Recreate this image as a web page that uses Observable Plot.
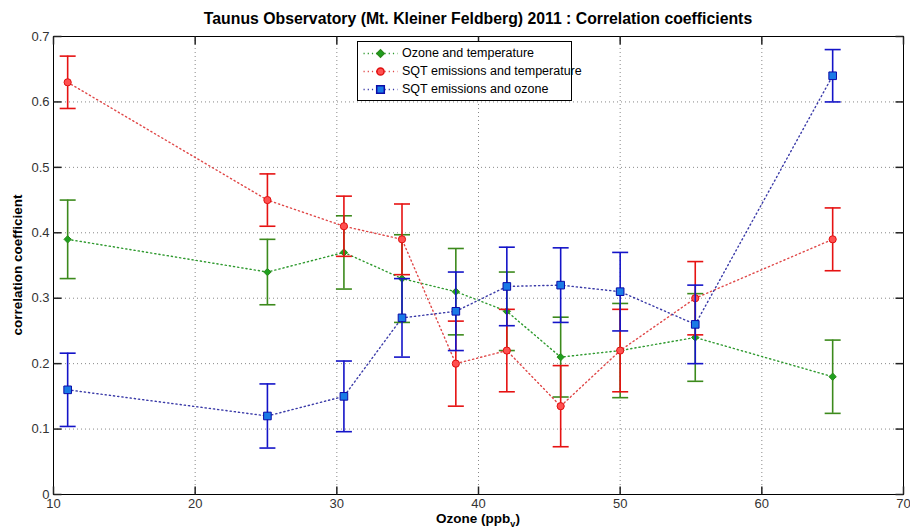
<!DOCTYPE html>
<html>
<head>
<meta charset="utf-8">
<script src="https://cdn.jsdelivr.net/npm/d3@7"></script>
<script src="https://cdn.jsdelivr.net/npm/@observablehq/plot@0.6"></script>
<style>
  body { margin: 0; background: #fff; font-family: "Liberation Sans", Arial, Helvetica, sans-serif; }
  #wrap { position: relative; width: 910px; height: 531px; }
  #title { position: absolute; left: 0; width: 956px; top: 10px; text-align: center; font-weight: bold; font-size: 15.8px; color: #000; white-space: nowrap; }
  #xlabel { position: absolute; left: 0; width: 956px; top: 511px; text-align: center; font-weight: bold; font-size: 13.5px; }
  #xlabel sub { font-size: 9px; }
  #ylabel { position: absolute; left: 17px; top: 265px; transform: translate(-50%, -50%) rotate(-90deg); font-weight: bold; font-size: 13.5px; white-space: nowrap; }
  #legend { position: absolute; left: 357px; top: 41px; width: 213px; height: 58px; border: 1px solid #000; background: #fff; font-size: 12.5px; }
  #legend .row { position: absolute; left: 3px; height: 16px; display: flex; align-items: center; white-space: nowrap; }
  #legend svg { margin-right: 3px; flex-shrink: 0; }
  #chart svg { position: absolute; left: 0; top: 0; }
</style>
</head>
<body>
<div id="wrap">
  <div id="chart"></div>
  <div id="title">Taunus Observatory (Mt. Kleiner Feldberg) 2011 : Correlation coefficients</div>
  <div id="xlabel">Ozone (ppb<sub>v</sub>)</div>
  <div id="ylabel">correlation coefficient</div>
  <div id="legend"></div>
</div>
<script>
// ---- data ----
const ozone = [11, 25.1, 30.5, 34.6, 38.4, 42.0, 45.8, 50.0, 55.3, 65.0];
const ozTemp = [0.39, 0.34, 0.37, 0.33, 0.31, 0.28, 0.21, 0.22, 0.24, 0.18];
const ozTempErr = [0.06, 0.05, 0.056, 0.067, 0.066, 0.06, 0.061, 0.072, 0.067, 0.056];
const sqtTemp = [0.63, 0.45, 0.41, 0.39, 0.20, 0.22, 0.135, 0.22, 0.30, 0.39];
const sqtTempErr = [0.04, 0.04, 0.046, 0.054, 0.065, 0.063, 0.062, 0.063, 0.056, 0.048];
const sqtOz = [0.16, 0.12, 0.15, 0.27, 0.28, 0.318, 0.32, 0.31, 0.26, 0.64];
const sqtOzErr = [0.056, 0.049, 0.054, 0.06, 0.06, 0.06, 0.057, 0.06, 0.06, 0.04];
const seriesNames = ["Ozone and temperature", "SQT emissions and temperature", "SQT emissions and ozone"];
const xTicks = [10, 20, 30, 40, 50, 60, 70];
const yTicks = [0, 0.1, 0.2, 0.3, 0.4, 0.5, 0.6, 0.7];

const styles = [
  {line: "#2f9a2f", bar: "#3c8a1c", fill: "#1fa01f", stroke: "#2a8a1a", symbol: "diamond2", r: 3.3},
  {line: "#e04848", bar: "#e61212", fill: "#ff5050", stroke: "#e01010", symbol: "circle", r: 3.6},
  {line: "#3a3aa8", bar: "#1414c8", fill: "#1a7ae6", stroke: "#0c0ca8", symbol: "square", r: 4.3}
];
const vals = [ozTemp, sqtTemp, sqtOz];
const errs = [ozTempErr, sqtTempErr, sqtOzErr];

const series = vals.map((v, s) => ozone.map((x, i) => ({x, y: v[i], lo: v[i] - errs[s][i], hi: v[i] + errs[s][i], s})));

// custom symbols
const hcap = {draw(ctx) { const r = 8; ctx.moveTo(-r, 0); ctx.lineTo(r, 0); }};
const tickUp = {draw(ctx) { ctx.moveTo(0, 0); ctx.lineTo(0, -8); }};
const tickDown = {draw(ctx) { ctx.moveTo(0, 0); ctx.lineTo(0, 8); }};
const tickRight = {draw(ctx) { ctx.moveTo(0, 0); ctx.lineTo(8, 0); }};
const tickLeft = {draw(ctx) { ctx.moveTo(0, 0); ctx.lineTo(-8, 0); }};

const marks = [
  Plot.gridX(xTicks.slice(1, -1), {stroke: "#888", strokeOpacity: 1, strokeDasharray: "1,3", strokeWidth: 1}),
  Plot.gridY(yTicks.slice(1, -1), {stroke: "#888", strokeOpacity: 1, strokeDasharray: "1,3", strokeWidth: 1}),
];
series.forEach((data, s) => {
  const st = styles[s];
  marks.push(
    Plot.line(data, {x: "x", y: "y", stroke: st.line, strokeWidth: 1.4, strokeDasharray: "1.2,3"}),
    Plot.ruleX(data, {x: "x", y1: "lo", y2: "hi", stroke: st.bar, strokeWidth: 1.6}),
    Plot.dot(data, {x: "x", y: "lo", symbol: hcap, stroke: st.bar, strokeWidth: 1.6}),
    Plot.dot(data, {x: "x", y: "hi", symbol: hcap, stroke: st.bar, strokeWidth: 1.6}),
    Plot.dot(data, {x: "x", y: "y", symbol: st.symbol, r: st.r, fill: st.fill, stroke: st.stroke, strokeWidth: 1})
  );
});
marks.push(
  Plot.frame({stroke: "#000", strokeWidth: 1}),
  Plot.dot(xTicks, {x: d => d, frameAnchor: "bottom", symbol: tickUp, stroke: "#222"}),
  Plot.dot(xTicks, {x: d => d, frameAnchor: "top", symbol: tickDown, stroke: "#222"}),
  Plot.dot(yTicks, {y: d => d, frameAnchor: "left", symbol: tickRight, stroke: "#222"}),
  Plot.dot(yTicks, {y: d => d, frameAnchor: "right", symbol: tickLeft, stroke: "#222"}),
  Plot.axisX(xTicks, {tickSize: 0, tickPadding: 4, fontSize: 13, fill: "#333", label: null, tickFormat: d => String(d)}),
  Plot.axisY(yTicks, {tickSize: 0, tickPadding: 4, fontSize: 13, fill: "#333", label: null, tickFormat: d => String(d)})
);

const chart = Plot.plot({
  width: 910, height: 531,
  marginLeft: 53, marginRight: 7, marginTop: 36, marginBottom: 37,
  style: {fontFamily: "'Liberation Sans', Arial, Helvetica, sans-serif", fontSize: "13px", background: "#fff"},
  x: {domain: [10, 70]},
  y: {domain: [0, 0.7]},
  marks
});
document.getElementById("chart").appendChild(chart);

// legend
const legend = document.getElementById("legend");
seriesNames.forEach((name, s) => {
  const st = styles[s];
  const row = document.createElement("div");
  row.className = "row";
  row.style.top = (3 + s * 18) + "px";
  const sw = Plot.plot({
    width: 38, height: 16, margin: 0, x: {type: "identity"}, y: {type: "identity"}, axis: null,
    marks: [
      Plot.link([0], {x1: 2, x2: 36, y1: 8, y2: 8, stroke: st.line, strokeWidth: 1.4, strokeDasharray: "1.2,3"}),
      Plot.dot([0], {x: () => 19, y: () => 8, symbol: st.symbol, r: st.r, fill: st.fill, stroke: st.stroke})
    ]
  });
  row.appendChild(sw);
  const t = document.createElement("span");
  t.textContent = name;
  row.appendChild(t);
  legend.appendChild(row);
});
</script>
</body>
</html>
